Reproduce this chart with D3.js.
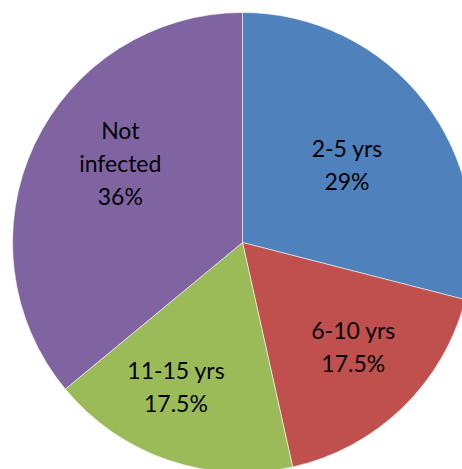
<!DOCTYPE html>
<html>
<head>
<meta charset="utf-8">
<script src="https://cdn.jsdelivr.net/npm/d3@7"></script>
<style>
  html, body { margin: 0; padding: 0; background: #ffffff; }
  svg { display: block; }
</style>
</head>
<body>
<svg id="chart" width="462" height="469"></svg>
<script>
// ---- data ----
const categories = ["2-5 yrs", "6-10 yrs", "11-15 yrs", "Not infected"];
const values = [29, 17.5, 17.5, 36];
const valueLabels = ["29%", "17.5%", "17.5%", "36%"];
const labelLines = [["2-5 yrs"], ["6-10 yrs"], ["11-15 yrs"], ["Not", "infected"]];
const colors = ["#4F81BD", "#C0504D", "#9BBB59", "#8064A2"];

// ---- layout ----
const W = 462, H = 469;
const cx = 242.5, cy = 242.5, R = 230;
// label anchor placement in polar terms (angle deg clockwise from top, radius fraction)
const labelPolar = [[53.5, 0.565], [133.6, 0.665], [204.6, 0.695], [302.5, 0.63]];
const lineH = 33, capHalf = 7.8;

const svg = d3.select("#chart");
const g = svg.append("g").attr("transform", `translate(${cx},${cy})`);

const pie = d3.pie().sort(null).value(d => d)(values);
const arc = d3.arc().innerRadius(0).outerRadius(R);

g.selectAll("path.slice")
  .data(pie)
  .join("path")
  .attr("class", "slice")
  .attr("d", arc)
  .attr("fill", (d, i) => colors[i])
  .attr("stroke", "rgba(255,255,255,0.55)")
  .attr("stroke-width", 1);

const labels = g.selectAll("text.lbl")
  .data(pie)
  .join("text")
  .attr("class", "lbl")
  .attr("text-anchor", "middle")
  .attr("font-family", "Lato, 'Open Sans', sans-serif")
  .attr("font-size", 23)
  .attr("fill", "#000");

labels.each(function(d, i) {
  const [adeg, k] = labelPolar[i];
  const a = adeg * Math.PI / 180;
  const x = Math.sin(a) * R * k;
  const y = -Math.cos(a) * R * k;
  const lines = labelLines[i].concat([valueLabels[i]]);
  const n = lines.length;
  d3.select(this).selectAll("tspan")
    .data(lines)
    .join("tspan")
    .attr("x", x)
    .attr("y", (t, j) => y + (j - (n - 1) / 2) * lineH + capHalf)
    .text(t => t);
});
</script>
</body>
</html>
